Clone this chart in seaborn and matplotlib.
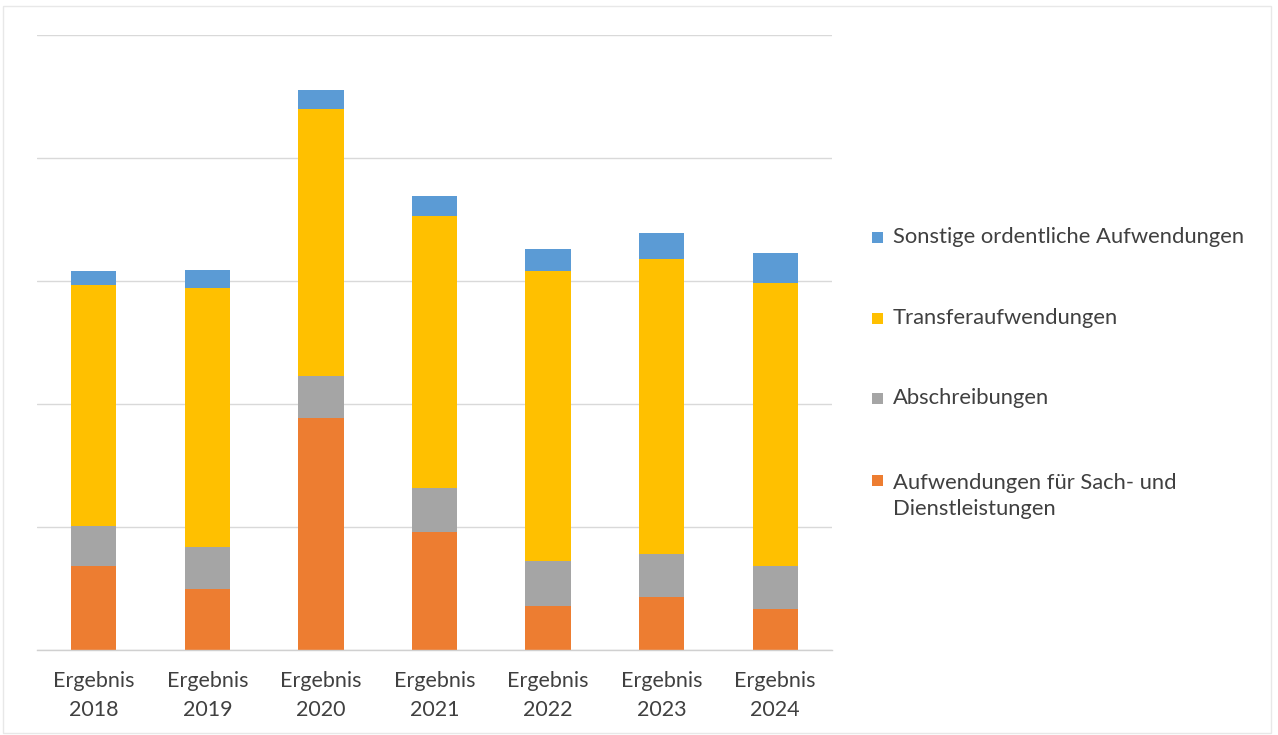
import matplotlib
matplotlib.use("Agg")
import matplotlib.pyplot as plt
import seaborn as sns
from matplotlib.patches import Rectangle

years = ["2018", "2019", "2020", "2021", "2022", "2023", "2024"]
categories = [f"Ergebnis\n{y}" for y in years]

sach = [0.68, 0.50, 1.89, 0.96, 0.36, 0.43, 0.33]
abschreibungen = [0.33, 0.34, 0.34, 0.36, 0.36, 0.35, 0.35]
transfer = [1.96, 2.10, 2.17, 2.21, 2.36, 2.40, 2.30]
sonstige = [0.11, 0.15, 0.15, 0.16, 0.18, 0.21, 0.25]

series_names = [
    "Aufwendungen für Sach- und\nDienstleistungen",
    "Abschreibungen",
    "Transferaufwendungen",
    "Sonstige ordentliche Aufwendungen",
]
series_values = [sach, abschreibungen, transfer, sonstige]
colors = ["#ED7D31", "#A5A5A5", "#FFC000", "#5B9BD5"]

sns.set_theme(style="white")
plt.rcParams["font.family"] = ["Lato", "DejaVu Sans"]
text_color = "#404040"

W, H = 1278, 735
fig = plt.figure(figsize=(W / 100, H / 100), dpi=100)
ax = fig.add_axes([37 / W, 85 / H, (832 - 37) / W, (650 - 35) / H])

# cumulative tops for stacking
cums = []
running = [0.0] * len(categories)
for vals in series_values:
    running = [r + v for r, v in zip(running, vals)]
    cums.append(list(running))

for cum, color in zip(reversed(cums), reversed(colors)):
    sns.barplot(x=categories, y=cum, color=color, saturation=1, width=0.4,
                errorbar=None, linewidth=0, order=categories, ax=ax)

ax.set_ylim(0, 5)
ax.set_xlim(-0.5, 6.5)
ax.set_yticks(range(6))
ax.set_yticklabels([])
ax.yaxis.grid(True, color="#d9d9d9", linewidth=1)
ax.set_axisbelow(True)
for s in ["left", "right", "top"]:
    ax.spines[s].set_visible(False)
ax.spines["bottom"].set_color("#d0d0d0")
ax.spines["bottom"].set_linewidth(1)
ax.tick_params(axis="y", length=0)
ax.set_xticks(range(len(categories)))
ax.set_xticklabels(categories, linespacing=1.6, fontsize=15.5, color=text_color)
ax.tick_params(axis="x", which="major", length=0, pad=15)
ax.set_xticks([i - 0.5 for i in range(len(categories) + 1)], minor=True)
ax.tick_params(axis="x", which="minor", length=5, color="#d0d0d0", width=1, direction="out")
ax.set_xlabel("")
ax.set_ylabel("")

# legend (top item first, as in the reference)
legend_y = [237, 318, 398, 496]
for name, color, yc in zip(reversed(series_names), reversed(colors), legend_y):
    sq_y = yc if "\n" not in name else 480
    fig.add_artist(Rectangle((872 / W, 1 - (sq_y + 5.5) / H), 11 / W, 11 / H,
                             transform=fig.transFigure, facecolor=color,
                             edgecolor="none"))
    fig.text(893 / W, 1 - yc / H, name, ha="left", va="center",
             fontsize=15.8, color=text_color, linespacing=1.42)

fig.add_artist(Rectangle((3 / W, 2 / H), 1268 / W, 727 / H,
                         transform=fig.transFigure, fill=False,
                         edgecolor="#e8e8e8", linewidth=1))

fig.savefig("out.png", dpi=100, facecolor="white")
